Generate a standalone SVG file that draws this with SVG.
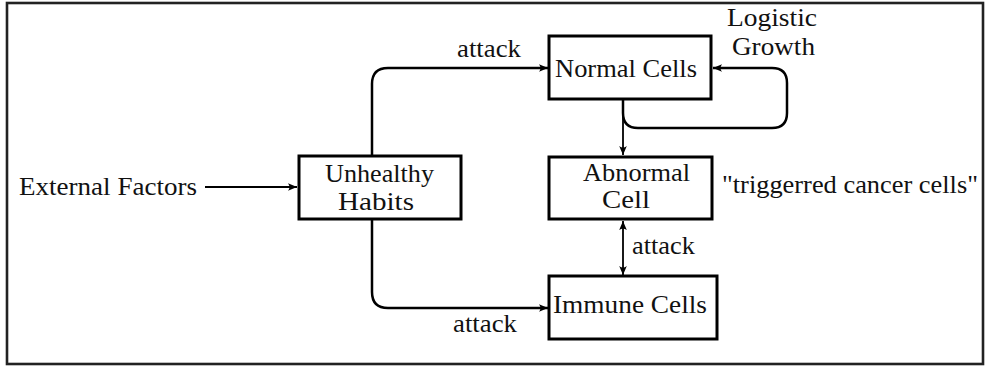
<svg xmlns="http://www.w3.org/2000/svg" width="987" height="368" viewBox="0 0 987 368" font-family="'Liberation Serif', 'Times New Roman', serif">
<defs>
<marker id="arr" viewBox="-10 -5 12 10" refX="0" refY="0" markerWidth="12" markerHeight="10" markerUnits="userSpaceOnUse" orient="auto-start-reverse">
<path d="M0,0 L-9,-3.8 Q-6,0 -9,3.8 Z" fill="#000"/>
</marker>
<style>
text{font-family:'Liberation Serif','Times New Roman',serif;font-size:26px;fill:#111}
.sm{font-size:25px}
.box{fill:#fff;stroke:#000;stroke-width:3}
.c{fill:none;stroke:#000;stroke-width:2.5}
.t{fill:none;stroke:#000;stroke-width:1.8}
</style>
</defs>
<rect x="7" y="3" width="976" height="361" fill="#fff" stroke="#222" stroke-width="2.6"/>
<g id="connectors">
<path class="t" d="M205,187 L297,187" marker-end="url(#arr)"/>
<path class="c" d="M372,156 L372,84 Q372,68 388,68 L548,68" marker-end="url(#arr)"/>
<path class="c" d="M372,219 L372,292 Q372,308 388,308 L548,308" marker-end="url(#arr)"/>
<path class="c" d="M623,99 L623,113 Q623,128 638,128 L772,128 Q787,128 787,113 L787,83 Q787,68 772,68 L713,68" marker-end="url(#arr)"/>
<path class="t" d="M623,99 L623,155" marker-end="url(#arr)"/>
<path class="t" d="M623,221 L623,275" marker-start="url(#arr)" marker-end="url(#arr)"/>
<text x="457" y="57" textLength="64" lengthAdjust="spacingAndGlyphs">attack</text>
<text x="453" y="332" textLength="64" lengthAdjust="spacingAndGlyphs">attack</text>
<text x="632" y="254" textLength="63" lengthAdjust="spacingAndGlyphs">attack</text>
<text class="sm" x="727" y="26" textLength="90" lengthAdjust="spacingAndGlyphs">Logistic</text>
<text class="sm" x="732" y="55" textLength="83" lengthAdjust="spacingAndGlyphs">Growth</text>
</g>
<g id="external">
<text x="19" y="195" textLength="178" lengthAdjust="spacingAndGlyphs">External Factors</text>
</g>
<g id="unhealthy">
<rect class="box" x="299" y="156" width="162" height="63"/>
<text class="sm" x="325" y="182" textLength="109" lengthAdjust="spacingAndGlyphs">Unhealthy</text>
<text class="sm" x="338" y="210" textLength="76" lengthAdjust="spacingAndGlyphs">Habits</text>
</g>
<g id="normal">
<rect class="box" x="549" y="36" width="162" height="63"/>
<text x="555" y="77" textLength="142" lengthAdjust="spacingAndGlyphs">Normal Cells</text>
</g>
<g id="abnormal">
<rect class="box" x="549" y="157" width="163" height="62"/>
<text x="583" y="181" textLength="107" lengthAdjust="spacingAndGlyphs">Abnormal</text>
<text x="602" y="208" textLength="48" lengthAdjust="spacingAndGlyphs">Cell</text>
<text x="722" y="193" textLength="256" lengthAdjust="spacingAndGlyphs">"triggerred cancer cells"</text>
</g>
<g id="immune">
<rect class="box" x="549" y="276" width="168" height="63"/>
<text x="553" y="313" textLength="154" lengthAdjust="spacingAndGlyphs">Immune Cells</text>
</g>
</svg>
